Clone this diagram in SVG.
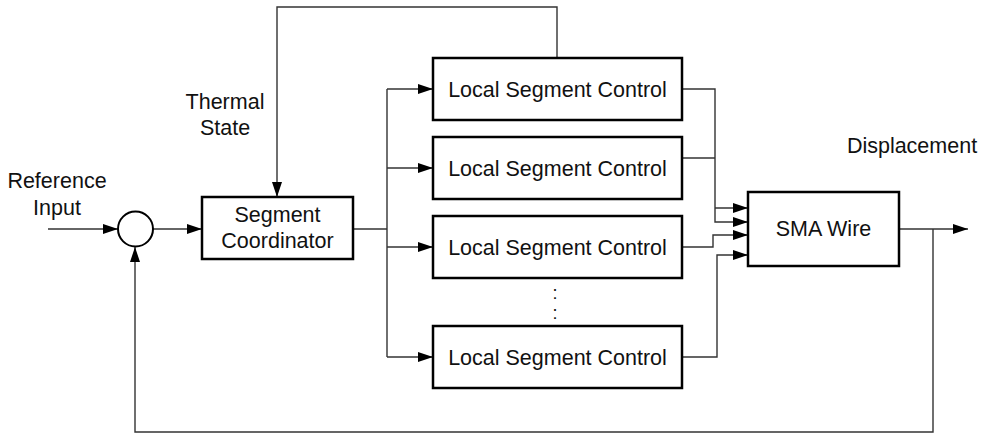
<svg xmlns="http://www.w3.org/2000/svg" width="990" height="434" viewBox="0 0 990 434">
  <defs>
    <marker id="arrow" markerUnits="userSpaceOnUse" markerWidth="15" markerHeight="10" refX="15" refY="5" orient="auto">
      <path d="M0,0 L15,5 L0,10 Z" fill="#000"/>
    </marker>
    <style>
      .box { fill: #fff; stroke: #000; stroke-width: 2.5; }
      .sum { fill: #fff; stroke: #000; stroke-width: 2; }
      .wire { fill: none; stroke: #333; stroke-width: 1.4; }
      .arr { marker-end: url(#arrow); }
      text { font-family: "Liberation Sans", Arial, sans-serif; font-size: 21.5px; fill: #111; text-anchor: middle; }
    </style>
  </defs>

  <rect width="990" height="434" fill="#fff"/>

  <!-- signal lines -->
  <g id="connectors">
    <path class="wire arr" d="M48,229 H118"/>
    <path class="wire arr" d="M153,229 H202"/>
    <path class="wire" d="M353,229 H387"/>
    <path class="wire" d="M387,89 V357"/>
    <path class="wire arr" d="M387,89 H433"/>
    <path class="wire arr" d="M387,168 H433"/>
    <path class="wire arr" d="M387,247 H433"/>
    <path class="wire arr" d="M387,357 H433"/>
    <path class="wire arr" d="M557,58 V7 H277 V197"/>
    <path class="wire arr" d="M682,89 H715 V222 H748"/>
    <path class="wire" d="M682,158 H715"/>
    <path class="wire arr" d="M715,208 H748"/>
    <path class="wire arr" d="M682,247 H713 V235 H748"/>
    <path class="wire arr" d="M682,357 H717 V255 H748"/>
    <path class="wire arr" d="M899,229 H968"/>
    <path class="wire arr" d="M933,229 V432 H135 V247"/>
  </g>

  <g id="label-reference">
    <text x="57" y="188">Reference</text>
    <text x="57" y="215">Input</text>
  </g>
  <g id="label-thermal">
    <text x="225" y="109">Thermal</text>
    <text x="225" y="135">State</text>
  </g>
  <g id="label-displacement">
    <text x="912" y="153">Displacement</text>
  </g>

  <g id="sum">
    <circle class="sum" cx="135.5" cy="229" r="17.5"/>
  </g>

  <g id="coordinator">
    <rect class="box" x="202" y="197" width="151" height="62"/>
    <text x="277.5" y="222">Segment</text>
    <text x="277.5" y="248">Coordinator</text>
  </g>

  <g id="local1">
    <rect class="box" x="433" y="58" width="249" height="62"/>
    <text x="557.5" y="97">Local Segment Control</text>
  </g>
  <g id="local2">
    <rect class="box" x="433" y="137" width="249" height="62"/>
    <text x="557.5" y="176">Local Segment Control</text>
  </g>
  <g id="local3">
    <rect class="box" x="433" y="216" width="249" height="62"/>
    <text x="557.5" y="255">Local Segment Control</text>
  </g>
  <g id="ellipsis">
    <text x="555" y="299" style="font-size:18px">:</text>
    <text x="555" y="319" style="font-size:18px">:</text>
  </g>
  <g id="local4">
    <rect class="box" x="433" y="326" width="249" height="62"/>
    <text x="557.5" y="365">Local Segment Control</text>
  </g>

  <g id="sma-wire">
    <rect class="box" x="748" y="192" width="151" height="74"/>
    <text x="823.5" y="236">SMA Wire</text>
  </g>
</svg>
